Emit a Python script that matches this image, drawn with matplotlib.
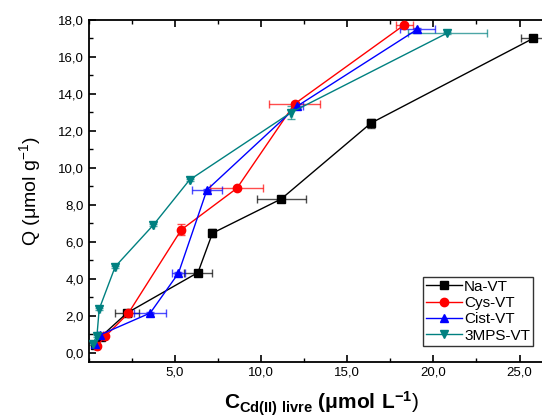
import matplotlib
matplotlib.use("Agg")
import matplotlib.pyplot as plt
from matplotlib.ticker import FuncFormatter, MultipleLocator

plt.rcParams["font.family"] = ["Liberation Sans", "DejaVu Sans"]
plt.rcParams["mathtext.fontset"] = "custom"
plt.rcParams["mathtext.rm"] = "Liberation Sans"
plt.rcParams["mathtext.bf"] = "Liberation Sans:bold"

# Na-VT
na_x = [0.40, 0.70, 2.23, 6.35, 7.19, 11.18, 16.38, 25.78]
na_y = [0.40, 0.85, 2.15, 4.34, 6.47, 8.32, 12.42, 17.00]
na_xerr = [0.10, 0.10, 0.70, 0.80, 0.15, 1.43, 0.20, 0.70]
na_yerr = [0.05, 0.05, 0.05, 0.05, 0.20, 0.05, 0.25, 0.05]

# Cys-VT
cys_x = [0.49, 0.97, 2.32, 5.38, 8.61, 11.95, 18.31]
cys_y = [0.38, 0.88, 2.15, 6.65, 8.90, 13.46, 17.73]
cys_xerr = [0.10, 0.10, 0.20, 0.15, 1.54, 1.50, 0.50]
cys_yerr = [0.05, 0.05, 0.05, 0.30, 0.05, 0.10, 0.05]

# Cist-VT
cist_x = [0.40, 0.68, 3.58, 5.22, 6.87, 12.12, 19.08]
cist_y = [0.50, 0.97, 2.15, 4.31, 8.81, 13.35, 17.50]
cist_xerr = [0.10, 0.15, 0.93, 0.40, 0.87, 0.30, 1.00]
cist_yerr = [0.05, 0.10, 0.05, 0.05, 0.05, 0.10, 0.05]

# 3MPS-VT
mps_x = [0.25, 0.49, 0.62, 1.55, 3.77, 5.86, 11.74, 20.82]
mps_y = [0.49, 0.92, 2.36, 4.66, 6.92, 9.35, 12.99, 17.30]
mps_xerr = [0.05, 0.05, 0.05, 0.05, 0.05, 0.05, 0.05, 2.30]
mps_yerr = [0.05, 0.05, 0.05, 0.05, 0.05, 0.05, 0.35, 0.05]

series = [
    ("Na-VT", na_x, na_y, na_xerr, na_yerr, "#000000", "s"),
    ("Cys-VT", cys_x, cys_y, cys_xerr, cys_yerr, "#ff0000", "o"),
    ("Cist-VT", cist_x, cist_y, cist_xerr, cist_yerr, "#0000ff", "^"),
    ("3MPS-VT", mps_x, mps_y, mps_xerr, mps_yerr, "#008080", "v"),
]

fig = plt.figure(figsize=(5.42, 4.19), dpi=100)
ax = fig.add_axes([88.5 / 542, 1 - 362 / 419, 465.5 / 542, 342 / 419])

for name, x, y, xerr, yerr, color, marker in series:
    ax.errorbar(x, y, xerr=xerr, yerr=yerr, fmt="none", ecolor=color,
                elinewidth=1.0, capsize=3, alpha=0.7, zorder=2)
    ax.plot(x, y, color=color, marker=marker, markersize=6, linewidth=1.0,
            label=name, zorder=3)

ax.set_xlim(0, 27)
ax.set_ylim(-0.5, 18.0)
ax.xaxis.set_major_locator(MultipleLocator(5))
ax.xaxis.set_minor_locator(MultipleLocator(2.5))
ax.yaxis.set_major_locator(MultipleLocator(2))
ax.yaxis.set_minor_locator(MultipleLocator(1))
comma = FuncFormatter(lambda v, p: f"{v:.1f}".replace(".", ","))
ax.xaxis.set_major_formatter(comma)
ax.yaxis.set_major_formatter(comma)
xt = ax.get_xticks()
ax.set_xticks([t for t in xt if t > 0 and t <= 27])
ax.tick_params(axis="both", which="major", direction="out", length=5,
               width=1.2, labelsize=9.5)
ax.tick_params(axis="both", which="minor", direction="out", length=3, width=1.0)
ax.tick_params(top=True, which="both", direction="in")
for s in ax.spines.values():
    s.set_linewidth(1.3)

ax.set_ylabel(r"Q ($\mathrm{\mu}$mol g$^{\mathrm{-1}}$)", fontsize=14, labelpad=10)
ax.set_xlabel(r"$\mathbf{C_{Cd(II)\ livre}}$ $\mathbf{(\mu mol\ L^{-1}}$)",
              fontsize=15, labelpad=8)

leg = ax.legend(loc="lower left", bbox_to_anchor=(0.718, 0.048), fontsize=11,
                frameon=True, fancybox=False, edgecolor="black",
                handlelength=2.4, handletextpad=0.1, borderpad=0.2,
                labelspacing=0.15, borderaxespad=0)
leg.get_frame().set_linewidth(1.0)

fig.savefig("out.png", dpi=100)
